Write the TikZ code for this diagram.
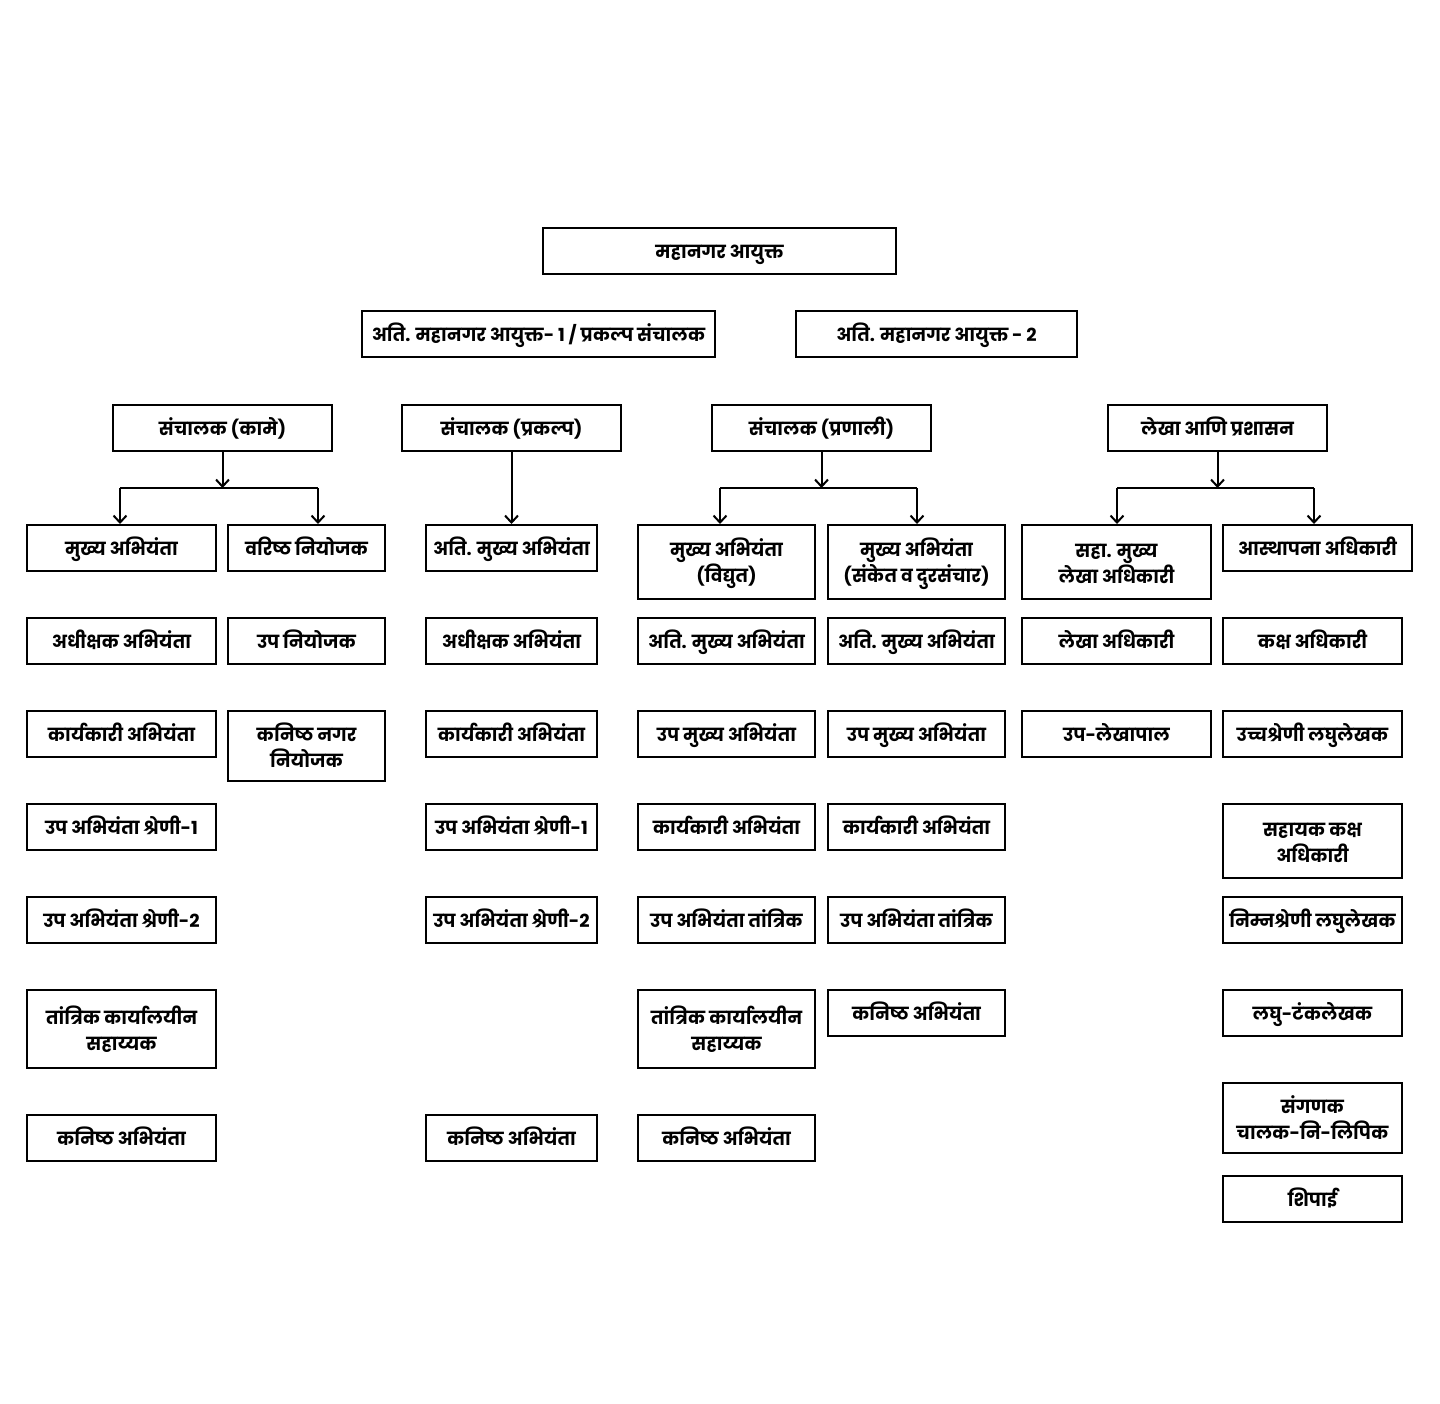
\documentclass[tikz,border=0pt]{standalone}
\usepackage{fontspec}
\setmainfont{Poppins}[Script=Devanagari]
\usetikzlibrary{arrows.meta}
\tikzset{
  box/.style={draw=black, line width=2pt, inner sep=0pt, align=center,
    font=\fontsize{18}{26}\selectfont\bfseries},
  conn/.style={line width=2pt},
  arr/.style={conn, -{Straight Barb[length=7pt,width=13pt,line width=2pt]}}
}
\newcommand\bx[6]{\node[box, minimum width={(#4-#2)*1pt}, minimum height={(#5-#3)*1pt}] (#1) at ({(#2+#4)/2},{(#3+#5)/2}) {#6};}
\newcommand\one[1]{\rule[-6pt]{0pt}{27pt}#1}
\newcommand\two[2]{\rule{0pt}{22pt}#1\\\rule[-6pt]{0pt}{6pt}#2}
\begin{document}
\begin{tikzpicture}[x=1pt,y=-1pt]
\fill[white] (0,0) rectangle (1440,1403);
\useasboundingbox (0,0) rectangle (1440,1403);
% top
\bx{t0}{543}{228}{896}{274}{\one{महानगर आयुक्त}}
\bx{am1}{362}{311}{715}{357}{\one{अति. महानगर आयुक्त- 1 / प्रकल्प संचालक}}
\bx{am2}{796}{311}{1077}{357}{\one{अति. महानगर आयुक्त - 2}}
\bx{d1}{113}{405}{332}{451}{\one{संचालक (कामे)}}
\bx{d2}{402}{405}{621}{451}{\one{संचालक (प्रकल्प)}}
\bx{d3}{712}{405}{931}{451}{\one{संचालक (प्रणाली)}}
\bx{d4}{1108}{405}{1327}{451}{\one{लेखा आणि प्रशासन}}
% column A
\bx{a1}{27}{525}{216}{571}{\one{मुख्य अभियंता}}
\bx{a2}{27}{618}{216}{664}{\one{अधीक्षक अभियंता}}
\bx{a3}{27}{711}{216}{757}{\one{कार्यकारी अभियंता}}
\bx{a4}{27}{804}{216}{850}{\one{उप अभियंता श्रेणी-1}}
\bx{a5}{27}{897}{216}{943}{\one{उप अभियंता श्रेणी-2}}
\bx{a6}{27}{990}{216}{1068}{\two{तांत्रिक कार्यालयीन}{सहाय्यक}}
\bx{a7}{27}{1115}{216}{1161}{\one{कनिष्ठ अभियंता}}
% column B
\bx{b1}{228}{525}{385}{571}{\one{वरिष्ठ नियोजक}}
\bx{b2}{228}{618}{385}{664}{\one{उप नियोजक}}
\bx{b3}{228}{711}{385}{781}{\two{कनिष्ठ नगर}{नियोजक}}
% column C
\bx{c1}{426}{525}{597}{571}{\one{अति. मुख्य अभियंता}}
\bx{c2}{426}{618}{597}{664}{\one{अधीक्षक अभियंता}}
\bx{c3}{426}{711}{597}{757}{\one{कार्यकारी अभियंता}}
\bx{c4}{426}{804}{597}{850}{\one{उप अभियंता श्रेणी-1}}
\bx{c5}{426}{897}{597}{943}{\one{उप अभियंता श्रेणी-2}}
\bx{c6}{426}{1115}{597}{1161}{\one{कनिष्ठ अभियंता}}
% column D
\bx{e1}{638}{525}{815}{599}{\two{मुख्य अभियंता}{(विद्युत)}}
\bx{e2}{638}{618}{815}{664}{\one{अति. मुख्य अभियंता}}
\bx{e3}{638}{711}{815}{757}{\one{उप मुख्य अभियंता}}
\bx{e4}{638}{804}{815}{850}{\one{कार्यकारी अभियंता}}
\bx{e5}{638}{897}{815}{943}{\one{उप अभियंता तांत्रिक}}
\bx{e6}{638}{990}{815}{1068}{\two{तांत्रिक कार्यालयीन}{सहाय्यक}}
\bx{e7}{638}{1115}{815}{1161}{\one{कनिष्ठ अभियंता}}
% column E
\bx{f1}{828}{525}{1005}{599}{\two{मुख्य अभियंता}{(संकेत व दुरसंचार)}}
\bx{f2}{828}{618}{1005}{664}{\one{अति. मुख्य अभियंता}}
\bx{f3}{828}{711}{1005}{757}{\one{उप मुख्य अभियंता}}
\bx{f4}{828}{804}{1005}{850}{\one{कार्यकारी अभियंता}}
\bx{f5}{828}{897}{1005}{943}{\one{उप अभियंता तांत्रिक}}
\bx{f6}{828}{990}{1005}{1036}{\one{कनिष्ठ अभियंता}}
% column F
\bx{g1}{1022}{525}{1211}{599}{\two{सहा. मुख्य}{लेखा अधिकारी}}
\bx{g2}{1022}{618}{1211}{664}{\one{लेखा अधिकारी}}
\bx{g3}{1022}{711}{1211}{757}{\one{उप-लेखापाल}}
% column G
\bx{h1}{1223}{525}{1412}{571}{\one{आस्थापना अधिकारी}}
\bx{h2}{1223}{618}{1402}{664}{\one{कक्ष अधिकारी}}
\bx{h3}{1223}{711}{1402}{757}{\one{उच्चश्रेणी लघुलेखक}}
\bx{h4}{1223}{804}{1402}{878}{\two{सहायक कक्ष}{अधिकारी}}
\bx{h5}{1223}{897}{1402}{943}{\one{निम्नश्रेणी लघुलेखक}}
\bx{h6}{1223}{990}{1402}{1036}{\one{लघु-टंकलेखक}}
\bx{h7}{1223}{1083}{1402}{1153}{\two{संगणक}{चालक-नि-लिपिक}}
\bx{h8}{1223}{1176}{1402}{1222}{\one{शिपाई}}
% connectors
\coordinate (p1l) at (120,488); \coordinate (p1r) at (318,488);
\draw[conn] (p1l) -- (p1r);
\draw[arr] (d1.south) -- (d1.south |- p1l);
\draw[arr] (p1l) -- (p1l |- a1.north);
\draw[arr] (p1r) -- (p1r |- b1.north);
\draw[arr] (d2.south) -- (c1.north);
\coordinate (p3l) at (720,488); \coordinate (p3r) at (917,488);
\draw[conn] (p3l) -- (p3r);
\draw[arr] (d3.south) -- (d3.south |- p3l);
\draw[arr] (p3l) -- (p3l |- e1.north);
\draw[arr] (p3r) -- (p3r |- f1.north);
\coordinate (p4l) at (1117,488); \coordinate (p4r) at (1314,488);
\draw[conn] (p4l) -- (p4r);
\draw[arr] (d4.south) -- (d4.south |- p4l);
\draw[arr] (p4l) -- (p4l |- g1.north);
\draw[arr] (p4r) -- (p4r |- h1.north);
\end{tikzpicture}
\end{document}
